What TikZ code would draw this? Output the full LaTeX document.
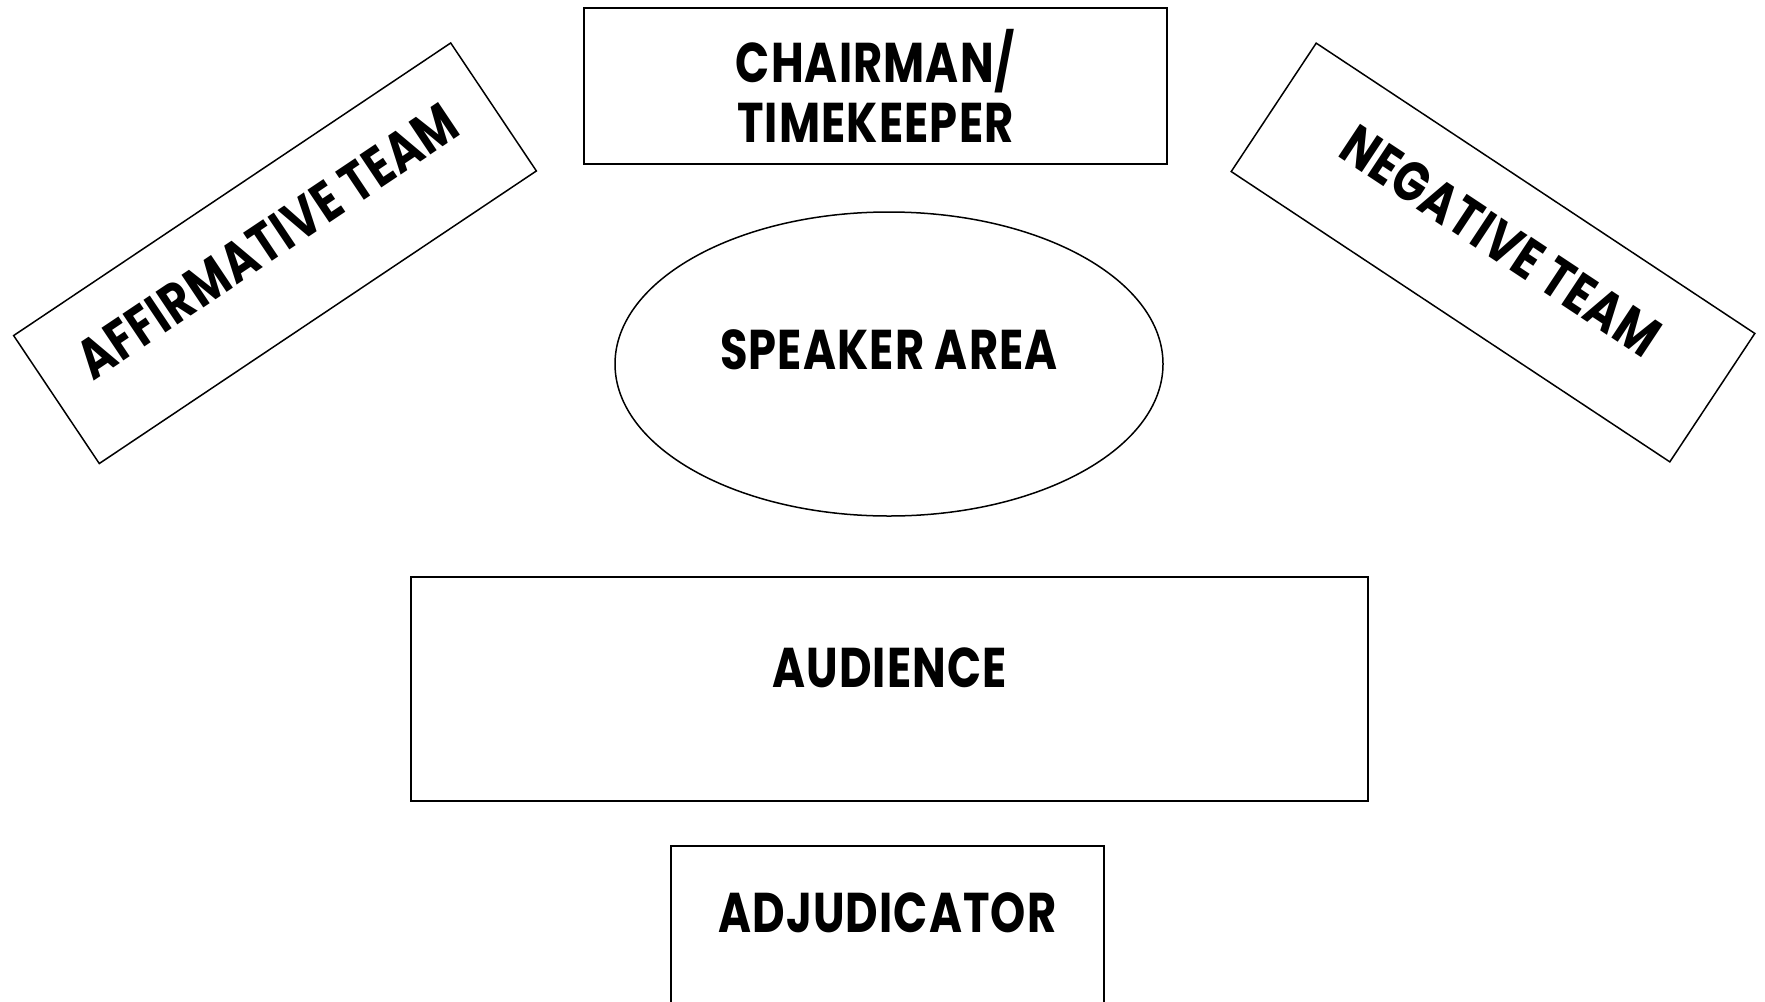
\documentclass[tikz,border=0pt]{standalone}
\usepackage{fontspec}
\setmainfont[FakeStretch=0.8,LetterSpace=2]{Poppins}
\usepackage{tikz}
\usetikzlibrary{shapes.geometric}

\begin{document}
\begin{tikzpicture}[x=0.5pt,y=-0.5pt,line width=0.75pt]
    \tikzstyle{area}=[draw, rectangle, inner sep=0pt, align=center, font=\fontsize{28}{30}\selectfont\bfseries]
    \useasboundingbox (0,0) rectangle (1765,1001);
    \clip (0,0) rectangle (1765,1001);

    \node [area, minimum width=291.5pt, minimum height=78pt] (chair) at (875.5,86) {CHAIRMAN/\\TIMEKEEPER};

    \node [area, rotate=33.8, minimum width=263pt, minimum height=77pt, text height=20pt, text depth=14.5pt] (aff) at (275,253.25) {AFFIRMATIVE TEAM};
    \node [area, rotate=-33.5, minimum width=263pt, minimum height=77pt, text height=20pt, text depth=14.5pt] (neg) at (1493,252.5) {NEGATIVE TEAM};

    \node [area, ellipse, minimum width=274pt, minimum height=152pt, text height=20pt, text depth=14.5pt] (speaker) at (889,364) {SPEAKER AREA};

    \node [area, minimum width=478.5pt, minimum height=112pt, text height=20pt, text depth=21.5pt] (audience) at (889.5,689) {AUDIENCE};
    \node [area, minimum width=216.5pt, minimum height=87pt, text height=20pt, text depth=20.5pt] (adj) at (887.5,933) {ADJUDICATOR};
\end{tikzpicture}
\end{document}
